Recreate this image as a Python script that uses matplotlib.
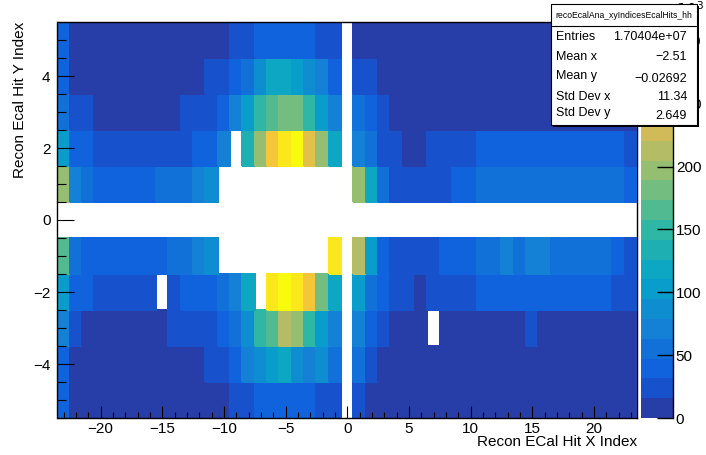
import numpy as np
import matplotlib
matplotlib.use("Agg")
import matplotlib.pyplot as plt
from matplotlib.colors import ListedColormap, Normalize
from matplotlib.ticker import MultipleLocator
from matplotlib.patches import Rectangle
from matplotlib.lines import Line2D

plt.rcParams['font.family'] = ['Liberation Sans', 'DejaVu Sans']
plt.rcParams['axes.unicode_minus'] = True

# ---------------- data (hits, in units of 10^3) ----------------
x_centers = np.arange(-23, 24)      # Recon ECal Hit X Index bins
y_centers = np.arange(-5, 6)        # Recon ECal Hit Y Index bins

#            x = -23 ... -14                         -13 ... -4                                  -3 ... 6                                   7 ... 16                                  17 ... 23
row_p5 = [39, 8, 8, 8, 8, 8, 8, 8, 8, 8,            8, 8, 8, 8, 24, 24, 39, 39, 39, 39,          39, 24, 24, 0, 8, 8, 8, 8, 8, 8,          8, 8, 8, 8, 8, 8, 8, 8, 8, 8,            8, 8, 8, 8, 8, 8, 8]
row_p4 = [39, 8, 8, 8, 8, 8, 8, 8, 8, 8,            8, 8, 24, 24, 39, 55, 87, 118, 118, 102,     87, 71, 39, 0, 24, 24, 8, 8, 8, 8,        8, 8, 8, 8, 8, 8, 8, 8, 8, 8,            8, 8, 8, 8, 8, 8, 8]
row_p3 = [55, 24, 24, 8, 8, 8, 8, 8, 8, 8,          24, 24, 24, 39, 71, 102, 150, 165, 181, 181, 150, 102, 71, 0, 55, 39, 24, 8, 8, 8,    8, 8, 8, 8, 8, 8, 8, 8, 8, 8,            8, 8, 8, 8, 8, 8, 8]
row_p2 = [102, 39, 39, 24, 24, 24, 24, 24, 24, 24,  24, 39, 39, 71, 0, 134, 197, 260, 291, 315,  244, 197, 118, 0, 71, 55, 24, 24, 8, 8,   24, 24, 24, 24, 39, 39, 39, 39, 39, 39,  39, 39, 39, 39, 39, 39, 24]
row_p1 = [197, 71, 55, 39, 39, 39, 39, 39, 55, 55,  55, 71, 87, 0, 0, 0, 0, 0, 0, 0,             0, 0, 0, 0, 197, 118, 55, 24, 24, 24,    24, 24, 39, 39, 55, 55, 55, 55, 55, 55,  55, 55, 55, 55, 55, 55, 39]
row_00 = [0, 0, 0, 0, 0, 0, 0, 0, 0, 0,             0, 0, 0, 0, 0, 0, 0, 0, 0, 0,                0, 0, 0, 0, 0, 0, 0, 0, 0, 0,             0, 0, 0, 0, 0, 0, 0, 0, 0, 0,            0, 0, 0, 0, 0, 0, 0]
row_m1 = [165, 55, 39, 39, 39, 39, 39, 39, 39, 55,  55, 71, 87, 0, 0, 0, 0, 0, 0, 0,             0, 0, 291, 0, 213, 102, 39, 24, 24, 24,  24, 39, 39, 39, 55, 55, 71, 55, 71, 71,  55, 55, 55, 55, 55, 39, 24]
row_m2 = [102, 39, 39, 24, 24, 24, 24, 24, 0, 24,   39, 39, 39, 55, 71, 118, 0, 291, 305, 291,   260, 181, 118, 0, 102, 55, 39, 24, 24, 8, 24, 24, 24, 24, 39, 39, 39, 39, 39, 39,  39, 39, 39, 39, 39, 24, 24]
row_m3 = [71, 24, 8, 8, 8, 8, 8, 8, 8, 24,          24, 24, 24, 39, 55, 87, 150, 165, 213, 197,  150, 102, 71, 0, 71, 39, 24, 8, 8, 8,     0, 8, 8, 8, 8, 8, 8, 8, 24, 8,            8, 8, 8, 8, 8, 8, 8]
row_m4 = [39, 8, 8, 8, 8, 8, 8, 8, 8, 8,            8, 8, 24, 24, 39, 71, 87, 102, 118, 87,      71, 87, 55, 0, 55, 24, 8, 8, 8, 8,        8, 8, 8, 8, 8, 8, 8, 8, 8, 8,            8, 8, 8, 8, 8, 8, 8]
row_m5 = [39, 8, 8, 8, 8, 8, 8, 8, 8, 8,            8, 8, 8, 8, 24, 24, 39, 39, 39, 39,          39, 24, 24, 0, 24, 8, 8, 8, 8, 8,         8, 8, 8, 8, 8, 8, 8, 8, 8, 8,            8, 8, 8, 8, 8, 8, 8]

colorbar_ticks = [0, 50, 100, 150, 200, 250, 300]
x_major_ticks = [-20, -15, -10, -5, 0, 5, 10, 15, 20]
y_major_ticks = [-4, -2, 0, 2, 4]

stat_title = "recoEcalAna_xyIndicesEcalHits_hh"
stat_labels = ["Entries", "Mean x", "Mean y", "Std Dev x", "Std Dev y"]
stat_values = ["1.70404e+07", "\u22122.51", "\u22120.02692", "11.34", "2.649"]

# ---------------- grid ----------------
Z = np.array([row_m5, row_m4, row_m3, row_m2, row_m1, row_00,
              row_p1, row_p2, row_p3, row_p4, row_p5], dtype=float)
Zm = np.ma.masked_where(Z <= 0, Z)
x_edges = np.append(x_centers - 0.5, x_centers[-1] + 0.5)
y_edges = np.append(y_centers - 0.5, y_centers[-1] + 0.5)

# ROOT kBird palette, 20 contour levels
stops = [0.0, 0.125, 0.25, 0.375, 0.5, 0.625, 0.75, 0.875, 1.0]
red   = [0.2082, 0.0592, 0.0780, 0.0232, 0.1802, 0.5301, 0.8186, 0.9956, 0.9764]
green = [0.1664, 0.3599, 0.5041, 0.6419, 0.7178, 0.7492, 0.7328, 0.7862, 0.9832]
blue  = [0.5293, 0.8684, 0.8385, 0.7914, 0.6425, 0.4662, 0.3499, 0.1968, 0.0539]
ncont = 20
cols = []
for i in range(ncont):
    idx = int((i + 0.99) * 255 / ncont)
    p = idx / 254.0
    cols.append((np.interp(p, stops, red), np.interp(p, stops, green), np.interp(p, stops, blue)))
cmap = ListedColormap(cols)
cmap.set_bad((1, 1, 1, 0))
zmax = Z.max()
norm = Normalize(vmin=0, vmax=zmax)

W, H = 706, 455
fig = plt.figure(figsize=(W / 100, H / 100), dpi=100)
fig.patch.set_facecolor('white')

ax_l, ax_r, ax_t, ax_b = 57.5, 637.0, 22.0, 418.0
ax = fig.add_axes([ax_l / W, 1 - ax_b / H, (ax_r - ax_l) / W, (ax_b - ax_t) / H])
mesh = ax.pcolormesh(x_edges, y_edges, Zm, cmap=cmap, norm=norm,
                     edgecolors='face', linewidth=0.3, antialiased=False, zorder=1)
ax.set_xlim(x_edges[0], x_edges[-1])
ax.set_ylim(y_edges[0], y_edges[-1])

ax.set_xticks(x_major_ticks)
ax.set_yticks(y_major_ticks)
ax.xaxis.set_minor_locator(MultipleLocator(1))
ax.yaxis.set_minor_locator(MultipleLocator(0.5))
ax.tick_params(axis='x', which='major', direction='in', length=8.6, width=0.8,
               labelsize=11, pad=3, top=False)
ax.tick_params(axis='x', which='minor', direction='in', length=4.3, width=0.8, top=False)
ax.tick_params(axis='y', which='major', direction='in', length=12.2, width=0.8,
               labelsize=11, pad=5, right=False)
ax.tick_params(axis='y', which='minor', direction='in', length=6.5, width=0.8, right=False)
for s in ax.spines.values():
    s.set_linewidth(1.0)
ax.spines['right'].set_zorder(0.5)
for t in ax.xaxis.get_major_ticks() + ax.yaxis.get_major_ticks():
    t.tick1line.set_zorder(3)

fig.text(ax_r / W, 1 - 442 / H, "Recon ECal Hit X Index", ha='right', va='center', fontsize=11)
fig.text(20 / W, 1 - ax_t / H, "Recon Ecal Hit Y Index", ha='center', va='top',
         rotation=90, fontsize=11)

# ---------------- colour bar ----------------
cax = fig.add_axes([641 / W, 1 - ax_b / H, 32 / W, (ax_b - ax_t) / H])
cb = fig.colorbar(mesh, cax=cax, ticks=colorbar_ticks)
cb.outline.set_visible(False)
cax.tick_params(direction='in', length=11.5, width=1.0, labelsize=11, pad=2,
                right=True, left=False)
cax.minorticks_off()
cax.add_line(Line2D([1, 1], [0, 1], transform=cax.transAxes, color='k', lw=1.0, clip_on=False))
fig.text(704 / W, 1 - 0 / H, r"$\times10^{3}$", ha='right', va='top', fontsize=11, zorder=3)

# ---------------- stats box ----------------
bx0, bx1, by0, by1 = 551, 697, 4, 125
sb = fig.add_axes([bx0 / W, 1 - (by1 + 2) / H, (bx1 - bx0 + 2) / W, (by1 - by0 + 2) / H])
sb.set_zorder(10)
sb.set_xlim(bx0, bx1 + 2)
sb.set_ylim(by1 + 2, by0)
sb.axis('off')
sb.add_patch(Rectangle((bx0 + 2, by0 + 2), bx1 - bx0, by1 - by0, facecolor='black',
                       edgecolor='none', clip_on=False))
sb.add_patch(Rectangle((bx0, by0), bx1 - bx0, by1 - by0, facecolor='white',
                       edgecolor='black', lw=0.8, clip_on=False))
sb.plot([bx0, bx1], [26, 26], color='black', lw=0.8, clip_on=False)
sb.text((bx0 + bx1) / 2, 15.5, stat_title, ha='center', va='center', fontsize=6.2)
label_y = [36.5, 56.5, 76, 97, 113]
value_y = [36.5, 56.5, 78.5, 97, 116]
for lab, val, ly, vy in zip(stat_labels, stat_values, label_y, value_y):
    sb.text(556, ly, lab, ha='left', va='center', fontsize=9)
    sb.text(687, vy, val, ha='right', va='center', fontsize=9)

fig.savefig("out.png", dpi=100)
